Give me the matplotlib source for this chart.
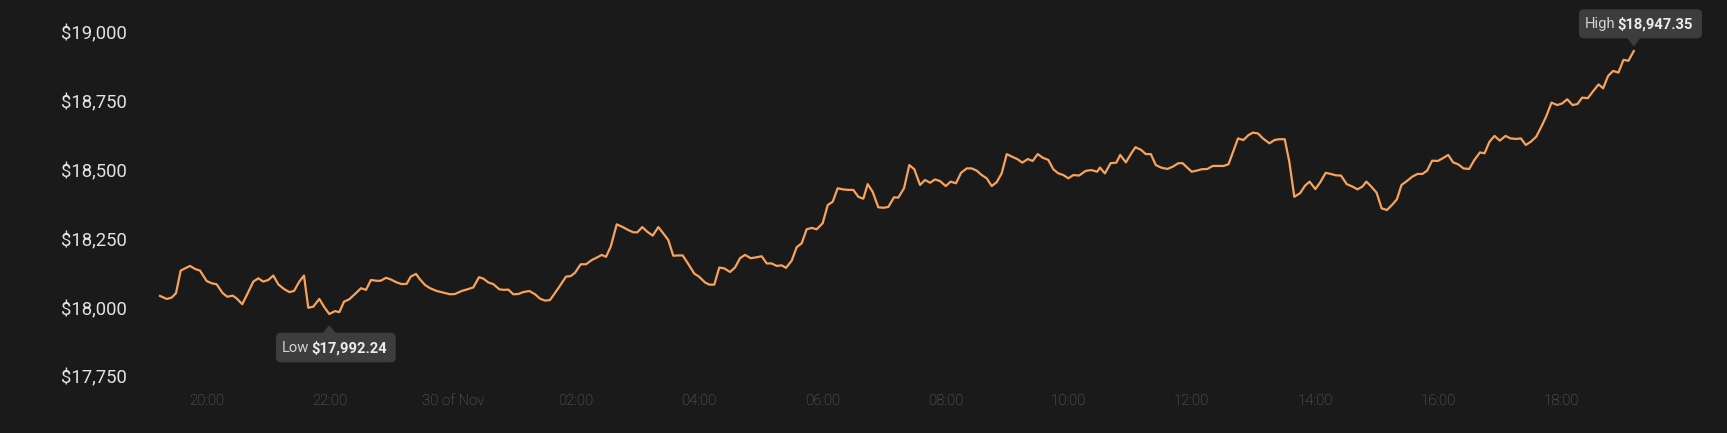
import matplotlib
matplotlib.use('Agg')
import matplotlib.pyplot as plt
from matplotlib.patches import FancyBboxPatch, Polygon
import matplotlib.transforms as mtransforms

# hours since 19:00 on 29 Nov
times = [
    0.245, 0.354, 0.435, 0.505, 0.581, 0.732, 0.813, 0.894, 1.003, 1.084,
    1.166, 1.263, 1.338, 1.426, 1.490, 1.581, 1.663, 1.760, 1.841, 1.922,
    2.004, 2.085, 2.166, 2.259, 2.345, 2.421, 2.507, 2.583, 2.653, 2.734,
    2.832, 2.908, 2.994, 3.087, 3.157, 3.233, 3.319, 3.412, 3.509, 3.590,
    3.671, 3.764, 3.829, 3.915, 3.991, 4.089, 4.170, 4.251, 4.316, 4.402,
    4.467, 4.548, 4.630, 4.738, 4.846, 4.955, 5.035, 5.144, 5.252, 5.333,
    5.425, 5.495, 5.576, 5.657, 5.755, 5.831, 5.901, 5.982, 6.063, 6.145,
    6.242, 6.335, 6.416, 6.497, 6.578, 6.713, 6.838, 6.914, 6.984, 7.077,
    7.163, 7.255, 7.336, 7.418, 7.488, 7.564, 7.662, 7.769, 7.850, 7.931,
    7.996, 8.077, 8.158, 8.246, 8.337, 8.418, 8.499, 8.580, 8.662, 8.733,
    8.824, 8.921, 8.998, 9.095, 9.165, 9.246, 9.327, 9.409, 9.501, 9.582,
    9.664, 9.745, 9.837, 9.923, 10.016, 10.097, 10.178, 10.259, 10.341, 10.410,
    10.503, 10.584, 10.665, 10.746, 10.828, 10.909, 11.006, 11.088, 11.169, 11.250,
    11.331, 11.422, 11.503, 11.585, 11.666, 11.737, 11.818, 11.909, 11.990, 12.072,
    12.164, 12.234, 12.327, 12.413, 12.494, 12.587, 12.668, 12.749, 12.830, 12.912,
    13.004, 13.085, 13.171, 13.253, 13.345, 13.426, 13.507, 13.588, 13.670, 13.751,
    13.832, 13.913, 13.995, 14.085, 14.167, 14.248, 14.336, 14.417, 14.498, 14.579,
    14.670, 14.751, 14.833, 14.914, 14.995, 15.076, 15.169, 15.277, 15.372, 15.464,
    15.508, 15.589, 15.682, 15.776, 15.837, 15.930, 16.024, 16.086, 16.179, 16.253,
    16.335, 16.416, 16.502, 16.602, 16.689, 16.783, 16.851, 16.926, 16.999, 17.080,
    17.161, 17.254, 17.341, 17.434, 17.515, 17.596, 17.671, 17.751, 17.838, 17.920,
    17.994, 18.075, 18.155, 18.261, 18.342, 18.417, 18.509, 18.584, 18.665, 18.758,
    18.838, 18.913, 19.007, 19.087, 19.174, 19.256, 19.336, 19.423, 19.516, 19.610,
    19.691, 19.771, 19.834, 19.907, 20.001, 20.083, 20.169, 20.250, 20.331, 20.406,
    20.498, 20.580, 20.666, 20.747, 20.822, 20.903, 20.995, 21.077, 21.164, 21.244,
    21.325, 21.413, 21.505, 21.587, 21.679, 21.754, 21.835, 21.916, 22.002, 22.096,
    22.176, 22.270, 22.345, 22.424, 22.506, 22.593, 22.675, 22.754, 22.842, 22.934,
    23.016, 23.097, 23.183, 23.264, 23.339, 23.431, 23.513, 23.605, 23.680, 23.761,
    23.842, 23.928, 24.010, 24.091, 24.178,
]

prices = [
    18058, 18047, 18052, 18068, 18150, 18167, 18156, 18150, 18112, 18104,
    18100, 18068, 18055, 18059, 18049, 18028, 18065, 18110, 18122, 18110,
    18116, 18132, 18100, 18083, 18072, 18076, 18110, 18132, 18015, 18019,
    18047, 18019, 17992.24, 18003, 17999, 18037, 18046, 18065, 18086, 18080,
    18116, 18113, 18113, 18124, 18118, 18107, 18101, 18102, 18128, 18138,
    18118, 18098, 18086, 18076, 18070, 18064, 18065, 18076, 18083, 18089,
    18126, 18121, 18107, 18101, 18082, 18080, 18081, 18064, 18065, 18072,
    18076, 18064, 18048, 18041, 18043, 18086, 18128, 18130, 18142, 18173,
    18173, 18188, 18197, 18207, 18200, 18237, 18318, 18307, 18297, 18289,
    18289, 18308, 18291, 18277, 18308, 18285, 18261, 18204, 18205, 18205,
    18174, 18139, 18128, 18107, 18099, 18099, 18161, 18158, 18145, 18161,
    18195, 18207, 18195, 18198, 18202, 18176, 18176, 18167, 18169, 18160,
    18186, 18235, 18249, 18300, 18305, 18300, 18322, 18388, 18400, 18449,
    18445, 18443, 18443, 18418, 18411, 18464, 18436, 18380, 18378, 18381,
    18416, 18415, 18449, 18533, 18518, 18461, 18479, 18469, 18481, 18475,
    18457, 18473, 18467, 18505, 18521, 18521, 18513, 18497, 18485, 18457,
    18471, 18503, 18573, 18563, 18555, 18542, 18555, 18548, 18573, 18560,
    18552, 18518, 18503, 18497, 18485, 18497, 18495, 18512, 18515, 18509,
    18524, 18503, 18540, 18542, 18570, 18543, 18578, 18598, 18588, 18573,
    18573, 18533, 18524, 18519, 18527, 18540, 18540, 18524, 18509, 18513,
    18518, 18519, 18530, 18530, 18530, 18536, 18582, 18630, 18624, 18642,
    18651, 18648, 18630, 18612, 18624, 18627, 18627, 18545, 18418, 18431,
    18458, 18473, 18446, 18471, 18505, 18501, 18496, 18495, 18464, 18455,
    18445, 18455, 18473, 18457, 18433, 18376, 18370, 18388, 18409, 18461,
    18476, 18491, 18501, 18501, 18513, 18549, 18548, 18558, 18570, 18543,
    18536, 18521, 18519, 18551, 18579, 18576, 18618, 18639, 18622, 18639,
    18630, 18628, 18630, 18606, 18618, 18636, 18672, 18709, 18760, 18751,
    18757, 18772, 18751, 18755, 18778, 18776, 18800, 18826, 18812, 18857,
    18875, 18869, 18915, 18912, 18947.35,
]

ytick_values = [17750, 18000, 18250, 18500, 18750, 19000]
ytick_labels = ['$17,750', '$18,000', '$18,250', '$18,500', '$18,750', '$19,000']
xtick_hours = [1, 3, 5, 7, 9, 11, 13, 15, 17, 19, 21, 23]
xtick_labels = ['20:00', '22:00', '30 of Nov', '02:00', '04:00', '06:00',
                '08:00', '10:00', '12:00', '14:00', '16:00', '18:00']
low_label = ('Low', '$17,992.24')
high_label = ('High', '$18,947.35')

W, H = 1727, 433
DPI = 100
BG = '#1b1a1b'
LINE = '#f7a35c'
FONT = 'Roboto'

fig = plt.figure(figsize=(W / DPI, H / DPI), dpi=DPI)
fig.patch.set_facecolor(BG)

# axes placement in pixels
L, R, T, B = 130, 1650, 20, 385
ax = fig.add_axes([L / W, 1 - B / H, (R - L) / W, (B - T) / H])
ax.set_facecolor(BG)

x0px, pxh = 144.92, 61.58
ax.set_xlim((L - x0px) / pxh, (R - x0px) / pxh)
y19, pxd = 36.5, 0.2754
ax.set_ylim(19000 - (B - y19) / pxd, 19000 + (y19 - T) / pxd)

ax.plot(times, prices, color=LINE, lw=1.6, solid_joinstyle='round', zorder=3)

for s in ax.spines.values():
    s.set_visible(False)

ax.set_yticks(ytick_values)
ax.set_yticklabels(ytick_labels, fontsize=13.3, color='#e2e2e2', family=FONT)
ax.tick_params(axis='y', length=0, pad=2.4)
off = mtransforms.ScaledTranslation(0, 4 / DPI, fig.dpi_scale_trans)
for lab in ax.get_yticklabels():
    lab.set_transform(lab.get_transform() + off)

ax.set_xticks(xtick_hours)
ax.set_xticklabels(xtick_labels, fontsize=10.8, color='#6c6c6c', family=FONT,
                   fontweight='light')
ax.tick_params(axis='x', length=0, pad=6.6)

fig.canvas.draw()
ident = mtransforms.IdentityTransform()
BOX = '#3d3d3d'


def tooltip(t, v, labels, box_dx, box_dy, box_w, box_h, tip_dy, base_dy,
            lab_dx, val_dx, text_dy):
    px, py = ax.transData.transform((t, v))
    box = FancyBboxPatch((px + box_dx, py + box_dy), box_w, box_h,
                         boxstyle='round,pad=0,rounding_size=5',
                         fc=BOX, ec='none', transform=ident, zorder=10)
    fig.patches.append(box)
    tri = Polygon([(px - 7, py + base_dy), (px + 7, py + base_dy), (px, py + tip_dy)],
                  closed=True, fc=BOX, ec='none', transform=ident, zorder=10)
    fig.patches.append(tri)
    fig.text(px + lab_dx, py + text_dy, labels[0], transform=ident, fontsize=10.6,
             color='#d2d2d2', family=FONT, ha='left', va='center', zorder=11)
    fig.text(px + val_dx, py + text_dy, labels[1], transform=ident, fontsize=10.6,
             color='#ececec', family=FONT, fontweight='bold', ha='left', va='center',
             zorder=11)


imax = prices.index(max(prices))
imin = prices.index(min(prices))
# High: box above point
tooltip(times[imax], prices[imax], high_label,
        box_dx=-54.8, box_dy=12.7, box_w=123, box_h=29,
        tip_dy=4.5, base_dy=13.5, lab_dx=-49.0, val_dx=-16.0, text_dy=27.0)
# Low: box below point
tooltip(times[imin], prices[imin], low_label,
        box_dx=-53.3, box_dy=-48.3, box_w=119.7, box_h=29.6,
        tip_dy=-11.0, base_dy=-19.5, lab_dx=-47.5, val_dx=-17.5, text_dy=-34.0)

fig.savefig('out.png', dpi=DPI, facecolor=BG)
